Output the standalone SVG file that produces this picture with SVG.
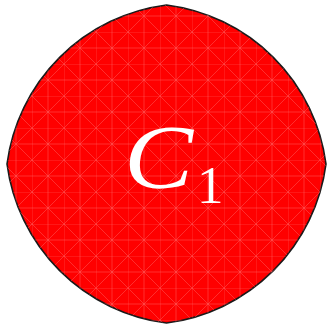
<svg xmlns="http://www.w3.org/2000/svg" width="329" height="326" viewBox="0 0 329 326">
<defs>
<pattern id="mesh" patternUnits="userSpaceOnUse" width="32" height="32">
<path d="M0 0H32M0 0V32M0 0L32 32M32 0L0 32M16 0V32M0 16H32" stroke="#ff6a6a" stroke-width="0.8" fill="none" opacity="0.55"/>
</pattern>
<style>
.shape{fill:#ff0000;stroke:#1a1a1a;stroke-width:1.6;stroke-linejoin:miter}
</style>
</defs>
<g id="C1">
<path class="shape" d="M166.5 5 A184.5 184.5 0 0 1 326 164 A184.5 184.5 0 0 1 166.5 323 A184.5 184.5 0 0 1 7 164 A184.5 184.5 0 0 1 166.5 5 Z"/>
<path d="M166.5 5 A184.5 184.5 0 0 1 326 164 A184.5 184.5 0 0 1 166.5 323 A184.5 184.5 0 0 1 7 164 A184.5 184.5 0 0 1 166.5 5 Z" fill="url(#mesh)" stroke="none"/>
<text transform="translate(124 188) scale(1.15 1)" x="0" y="0" font-family="Liberation Serif, DejaVu Serif, serif" font-size="90" font-style="italic" fill="#ffffff">C</text>
<text x="197" y="203" font-family="Liberation Serif, DejaVu Serif, serif" font-size="53" fill="#ffffff">1</text>
</g>
<g id="connectors"/>
</svg>
